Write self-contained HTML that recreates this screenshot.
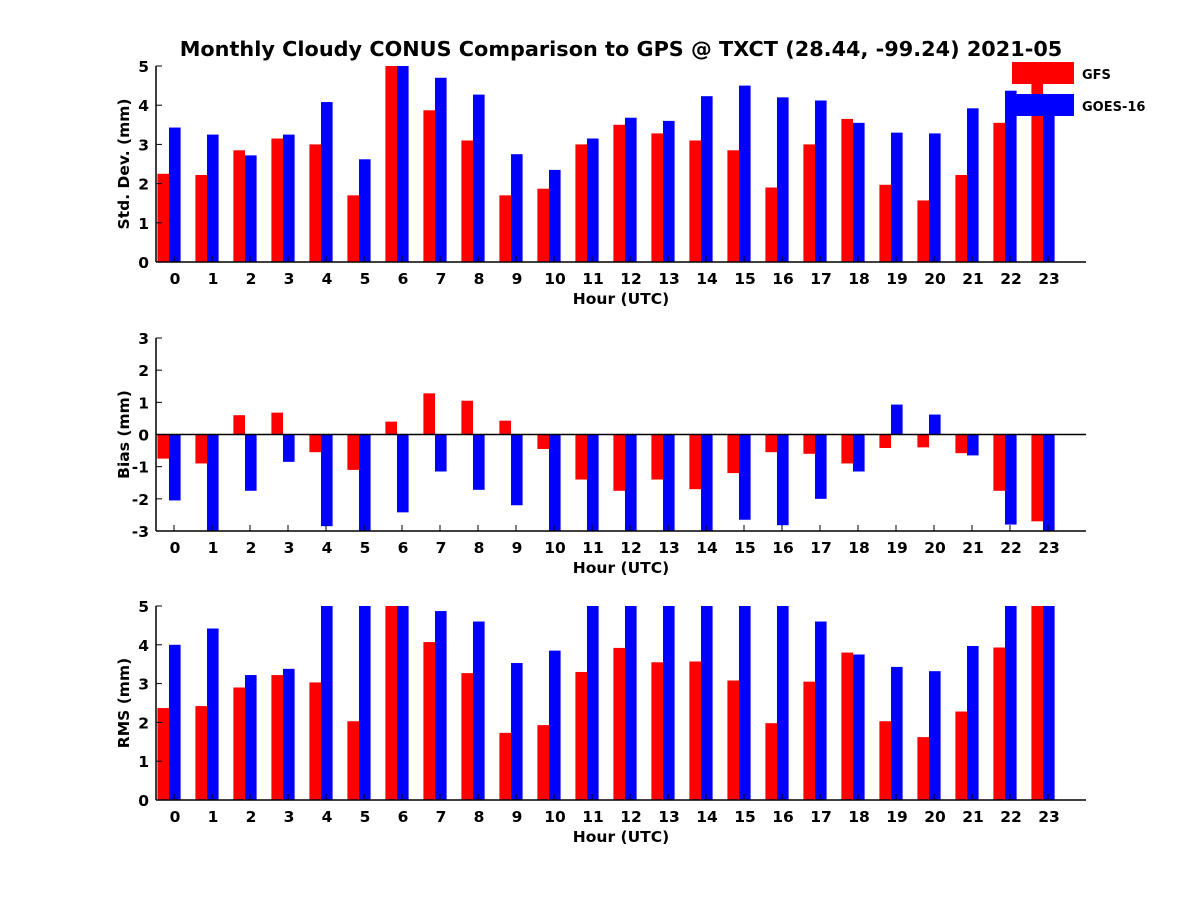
<!DOCTYPE html>
<html><head><meta charset="utf-8"><style>
body{margin:0;background:#fff}
svg{display:block;font-family:"DejaVu Sans","Liberation Sans",sans-serif;font-weight:bold}
</style></head><body>
<svg id="chart" width="1200" height="900" viewBox="0 0 1200 900">
<rect width="1200" height="900" fill="#fff"/>
<text x="621" y="56" font-size="20.8" text-anchor="middle">Monthly Cloudy CONUS Comparison to GPS @ TXCT (28.44, -99.24) 2021-05</text>
</svg>
<script>
const hours=[0,1,2,3,4,5,6,7,8,9,10,11,12,13,14,15,16,17,18,19,20,21,22,23];
const stdGFS=[2.25,2.22,2.85,3.15,3.0,1.7,5.2,3.87,3.1,1.7,1.87,3.0,3.5,3.28,3.1,2.85,1.9,3.0,3.65,1.97,1.57,2.22,3.55,5.2];
const stdGOES=[3.43,3.25,2.72,3.25,4.08,2.62,5.2,4.7,4.27,2.75,2.35,3.15,3.68,3.6,4.23,4.5,4.2,4.12,3.55,3.3,3.28,3.92,4.37,4.2];
const biasGFS=[-0.75,-0.9,0.6,0.68,-0.55,-1.1,0.4,1.28,1.05,0.43,-0.45,-1.4,-1.75,-1.4,-1.7,-1.2,-0.55,-0.6,-0.9,-0.42,-0.4,-0.58,-1.75,-2.7];
const biasGOES=[-2.05,-3.2,-1.75,-0.85,-2.85,-3.2,-2.42,-1.15,-1.72,-2.2,-3.2,-3.2,-3.2,-3.2,-3.2,-2.65,-2.82,-2,-1.15,0.93,0.62,-0.65,-2.8,-3.2];
const rmsGFS=[2.37,2.42,2.9,3.22,3.03,2.03,5.2,4.07,3.27,1.73,1.93,3.3,3.92,3.55,3.57,3.08,1.98,3.05,3.8,2.03,1.62,2.28,3.93,5.2];
const rmsGOES=[4,4.42,3.22,3.38,5.2,5.2,5.2,4.87,4.6,3.53,3.85,5.2,5.2,5.2,5.2,5.2,5.2,4.6,3.75,3.43,3.32,3.97,5.2,5.2];
const stdTicks=[0,1,2,3,4,5];
const biasTicks=[-3,-2,-1,0,1,2,3];
const rmsTicks=[0,1,2,3,4,5];

const svg=document.getElementById('chart');
const NS='http://www.w3.org/2000/svg';
function mk(tag,attrs,parent){const e=document.createElementNS(NS,tag);for(const k in attrs)e.setAttribute(k,attrs[k]);(parent||svg).appendChild(e);return e;}
const X0=156,X1=1086;
function xs(h){return 174+38*h;}
const panels=[
 {name:'std',top:66,bot:262,min:0,max:5,ticks:stdTicks,a:stdGFS,b:stdGOES,label:'Std. Dev. (mm)'},
 {name:'bias',top:338,bot:531,min:-3,max:3,ticks:biasTicks,a:biasGFS,b:biasGOES,label:'Bias (mm)'},
 {name:'rms',top:606,bot:800,min:0,max:5,ticks:rmsTicks,a:rmsGFS,b:rmsGOES,label:'RMS (mm)'}
];
panels.forEach((p,pi)=>{
  const ys=v=>p.bot-(v-p.min)/(p.max-p.min)*(p.bot-p.top);
  const g=mk('g',{});
  
  
  const cid='clip'+pi;
  const cp=mk('clipPath',{id:cid},g);mk('rect',{x:X0,y:p.top,width:X1-X0,height:p.bot-p.top},cp);
  const bars=mk('g',{'clip-path':'url(#'+cid+')'},g);
  const bw=11.6;
  hours.forEach((h,i)=>{
    const y0=ys(Math.max(p.min,0));
    const sx=xs(h)-5;
    [[p.a[i],'#ff0000',-1,'gfs'],[p.b[i],'#0000ff',0,'goes']].forEach(([v,c,off,s])=>{
      const yv=ys(v);
      const r=mk('rect',{x:sx+off*bw,y:Math.min(yv,y0),width:bw,height:Math.abs(y0-yv),fill:c},bars);
      
      
    });
  });
  if(p.min<0) mk('line',{x1:X0,x2:X1,y1:ys(0),y2:ys(0),stroke:'#000','stroke-width':1.5},g);
  mk('line',{x1:X0,x2:X0,y1:p.top,y2:p.bot,stroke:'#000','stroke-width':1.5},g);
  mk('line',{x1:X0,x2:X1,y1:p.bot,y2:p.bot,stroke:'#000','stroke-width':1.5},g);
  p.ticks.forEach(t=>{
    mk('line',{x1:X0,x2:X0+6,y1:ys(t),y2:ys(t),stroke:'#000'},g);
    const tx=mk('text',{x:X0-7,y:ys(t)+6,'font-size':15.5,'text-anchor':'end'},g);tx.textContent=t;
    
    
  });
  hours.forEach(h=>{
    mk('line',{x1:xs(h),x2:xs(h),y1:p.bot,y2:p.bot-6,stroke:'#000'},g);
    const tx=mk('text',{x:xs(h)+1,y:p.bot+22,'font-size':15.5,'text-anchor':'middle'},g);tx.textContent=h;
    
    
  });
  const xl=mk('text',{x:(X0+X1)/2,y:p.bot+42,'font-size':15.5,'text-anchor':'middle'},g);xl.textContent='Hour (UTC)';
  
  
  const cy=(p.top+p.bot)/2;
  const yl=mk('text',{x:129,y:cy,'font-size':15.5,'text-anchor':'middle',transform:'rotate(-90 129 '+cy+')'},g);yl.textContent=p.label;
  
  
});
const lg=mk('g',{});


mk('rect',{x:1012,y:62,width:62,height:22,fill:'#ff0000'},lg);
const t1=mk('text',{x:1082,y:79,'font-size':13},lg);t1.textContent='GFS';


mk('rect',{x:1008,y:94,width:66,height:22,fill:'#0000ff'},lg);
const t2=mk('text',{x:1082,y:111,'font-size':13},lg);t2.textContent='GOES-16';


</script>
</body></html>
